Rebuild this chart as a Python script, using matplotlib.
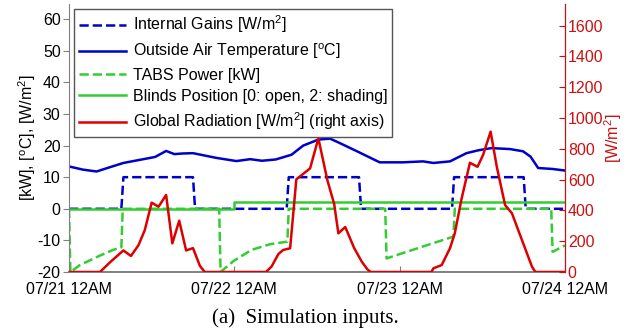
import matplotlib
matplotlib.use("Agg")
import matplotlib.pyplot as plt
import matplotlib.dates as mdates
import pandas as pd

plt.rcParams['font.family'] = ['Liberation Sans', 'DejaVu Sans']
plt.rcParams['mathtext.fontset'] = 'custom'
plt.rcParams['mathtext.rm'] = 'Liberation Sans'
plt.rcParams['mathtext.it'] = 'Liberation Sans:italic'
plt.rcParams['mathtext.bf'] = 'Liberation Sans:bold'
plt.rcParams['axes.unicode_minus'] = False

# --- data (hours since 07/21 00:00) ---
ig_t = [0, 7.6, 7.9, 18.0, 18.3, 31.6, 31.9, 42.1, 42.4, 55.6, 55.9, 66.0, 66.3, 72]
ig_v = [0, 0, 10, 10, 0, 0, 10, 10, 0, 0, 10, 10, 0, 0]

temp_t = [0, 2.0, 4.0, 6.0, 7.9, 10.8, 12.5, 14.1, 15.3, 16.5, 18.0, 21.4, 24.3, 26.3, 28.0,
          30.0, 32.3, 34.0, 36.2, 37.9, 39.3, 41.8, 45.1, 48.5, 51.4, 52.9, 55.3, 57.7,
          59.4, 61.3, 64.0, 65.9, 67.0, 68.1, 70.2, 72]
temp_v = [13.4, 12.4, 11.8, 13.2, 14.5, 15.7, 16.4, 18.3, 17.3, 17.5, 17.6, 16.1, 15.1, 15.7,
          15.2, 15.6, 17.1, 20.0, 21.9, 22.2, 20.8, 18.2, 14.7, 14.7, 15.0, 14.5, 15.0,
          17.6, 18.5, 19.2, 18.9, 18.2, 16.5, 12.9, 12.6, 12.1]

tabs_t = [0, 0.2, 1.6, 4.3, 6.4, 7.6, 7.8, 21.8, 22.0, 23.9, 26.5, 29.2, 31.7, 31.9,
          45.9, 46.1, 51.0, 55.8, 56.0, 70.0, 70.2, 72]
tabs_v = [0, -20, -17.8, -15.0, -13.0, -12.2, 0, 0, -20, -16.5, -13.0, -11.2, -10.4, 0,
          0, -15.7, -12.2, -8.8, 0, 0, -13.6, -11.6]

blinds_t = [0, 24, 24, 72]
blinds_v = [0, 0, 2, 2]

rad_t = [0, 4.5, 6.0, 7.9, 9.0, 10.1, 11.0, 12.0, 13.0, 14.1, 15.0, 16.0, 17.0, 18.0, 19.0,
         19.7, 28.6, 29.4, 30.4, 31.1, 32.1, 33.0, 33.8, 35.0, 36.2, 37.5, 38.5, 39.1, 40.1,
         41.4, 42.5, 43.3, 43.8, 52.6, 52.9, 54.1, 55.3, 56.0, 57.0, 58.2, 59.3, 60.1,
         61.2, 62.1, 63.3, 64.3, 65.2, 66.2, 67.2, 67.7, 72]
rad_v = [0, 0, 65, 140, 104, 175, 272, 450, 424, 500, 186, 333, 140, 155, 40,
         0, 0, 35, 117, 143, 154, 602, 630, 673, 868, 597, 440, 251, 292,
         155, 67, 18, 0, 0, 24, 45, 154, 251, 478, 709, 683, 759,
         911, 683, 435, 381, 273, 154, 35, 0, 0]

xticks_h = [0, 24, 48, 72]

start = pd.Timestamp('2013-07-21 00:00')
def to_time(h):
    return start + pd.to_timedelta(h, unit='h')

blue = '#0000CC'
green = '#33CC33'
red = '#DD0000'
axred = '#CC1010'
gray = '#808080'

fig = plt.figure(figsize=(6.43, 3.33), dpi=100)
ax = fig.add_axes([0.1073, 0.1832, 0.7714, 0.8048])
ax2 = ax.twinx()

l1, = ax.plot(to_time(ig_t), ig_v, '--', color=blue, lw=1.8, label='Internal Gains [W/m$^2$]')
l2, = ax.plot(to_time(temp_t), temp_v, '-', color=blue, lw=1.8,
              label='Outside Air Temperature [$^{\\rm o}$C]')
l3, = ax.plot(to_time(tabs_t), tabs_v, '--', color=green, lw=1.8, label='TABS Power [kW]')
l4, = ax.plot(to_time(blinds_t), blinds_v, '-', color=green, lw=1.8,
              label='Blinds Position [0: open, 2: shading]')
l5, = ax2.plot(to_time(rad_t), rad_v, '-', color=red, lw=1.8,
               label='Global Radiation [W/m$^2$] (right axis)')

ax.set_xlim(to_time(0), to_time(72))
ax.set_ylim(-20, 64.8)
ax2.set_ylim(0, 1740)
ax.set_yticks(range(-20, 61, 10))
ax2.set_yticks(range(0, 1601, 200))
ax.set_xticks(to_time(xticks_h))
ax.xaxis.set_major_formatter(mdates.DateFormatter('%m/%d %I%p'))

for a in (ax, ax2):
    a.spines['top'].set_visible(False)
ax.spines['left'].set_color(gray)
ax.spines['bottom'].set_color(gray)
ax.spines['bottom'].set_linewidth(1.4)
ax2.spines['left'].set_visible(False)
ax2.spines['bottom'].set_visible(False)
ax2.spines['right'].set_color(axred)

ax.tick_params(axis='y', direction='out', length=4, color=gray, labelsize=11.5, pad=2)
ax.tick_params(axis='x', direction='in', length=4, color=gray, labelsize=11.5, pad=7)
ax2.tick_params(axis='y', direction='in', length=4, color=axred, labelcolor=axred,
                labelsize=11.5, pad=2)

ax.set_ylabel('[kW], [$^{\\rm o}$C], [W/m$^2$]', fontsize=11.5, labelpad=0)
ax2.set_ylabel('[W/m$^2$]', fontsize=11.5, color=axred, labelpad=-1)

leg = ax2.legend(handles=[l1, l2, l3, l4, l5], loc='upper left',
                 bbox_to_anchor=(0.0, 1.0), fontsize=11.5, fancybox=False,
                 edgecolor='#555555', framealpha=1, handlelength=3.0,
                 handletextpad=0.4, labelspacing=0.4, borderpad=0.3,
                 borderaxespad=0.3)
leg.get_frame().set_linewidth(1.0)

fig.text(0.475, 0.045, '(a)  Simulation inputs.', ha='center', va='center',
         fontsize=15, family='Liberation Serif')

fig.savefig('out.png', dpi=100)
